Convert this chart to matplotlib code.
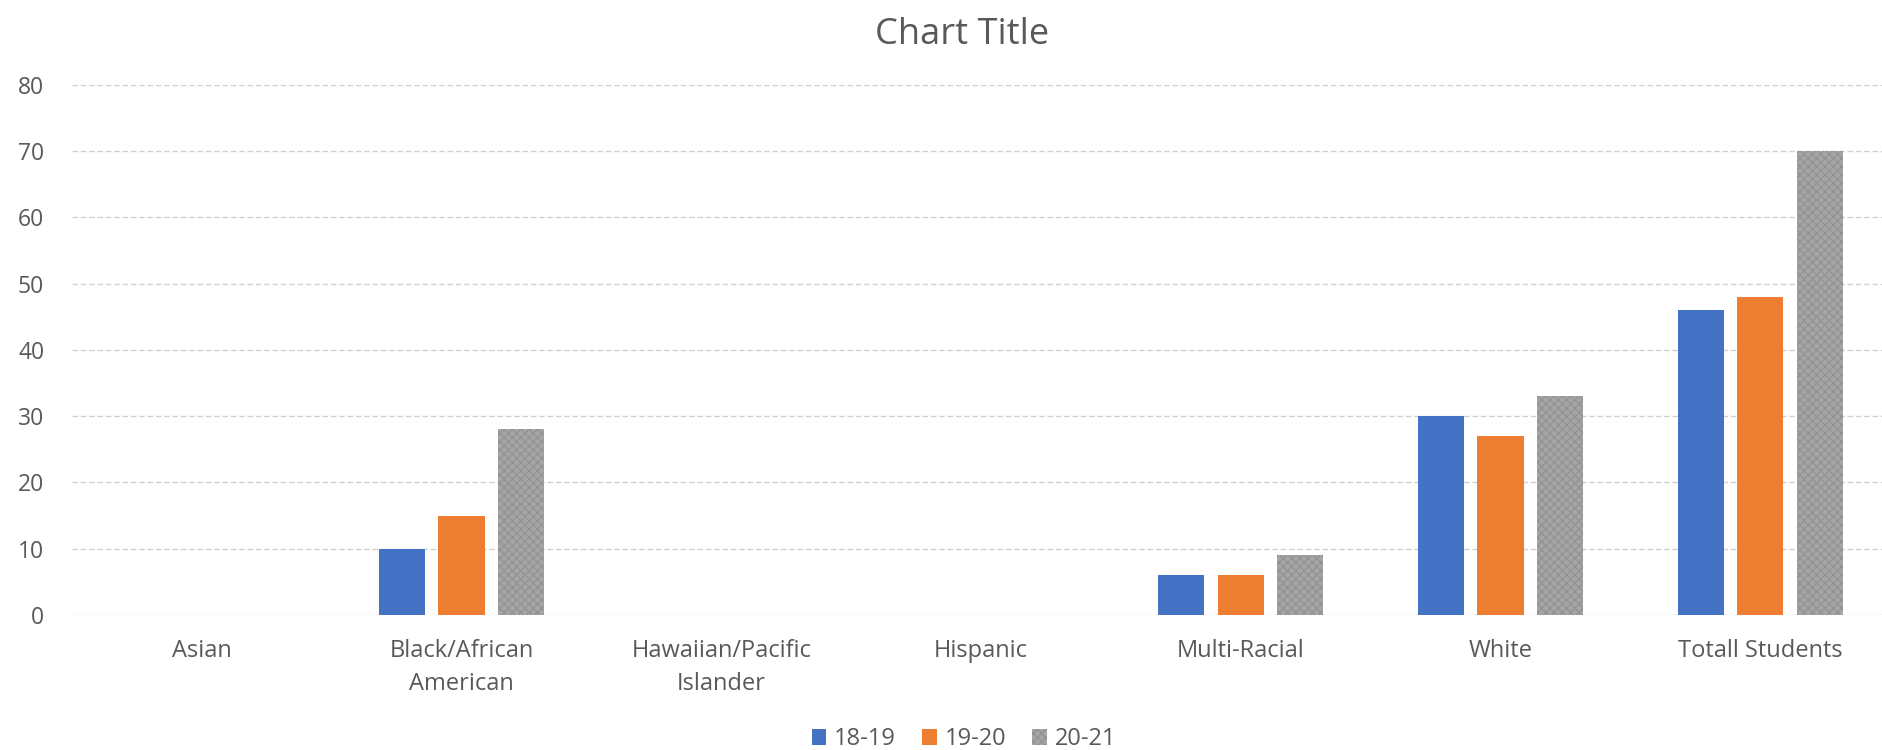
import matplotlib
matplotlib.use("Agg")
import matplotlib.pyplot as plt
import numpy as np

categories = ["Asian", "Black/African\nAmerican", "Hawaiian/Pacific\nIslander", "Hispanic",
              "Multi-Racial", "White", "Totall Students"]
series_names = ["18-19", "19-20", "20-21"]
s1819 = [0, 10, 0, 0, 6, 30, 46]
s1920 = [0, 15, 0, 0, 6, 27, 48]
s2021 = [0, 28, 0, 0, 9, 33, 70]
colors = ["#4472C4", "#ED7D31", "#A5A5A5"]
yticks = [0, 10, 20, 30, 40, 50, 60, 70, 80]

plt.rcParams['font.family'] = ['Open Sans', 'DejaVu Sans']

fig = plt.figure(figsize=(18.83, 7.5), dpi=100)
ax = fig.add_axes([0.0382, 0.18, 0.9656, 0.707])

x = np.arange(len(categories))
width = 0.178
step = 0.229
series = [s1819, s1920, s2021]
for i, (vals, name, c) in enumerate(zip(series, series_names, colors)):
    off = (i - 1) * step
    if i == 2:
        ax.bar(x + off, vals, width, color=c, label=name, edgecolor="#939393",
               linewidth=0, hatch="xxxx", zorder=3)
    else:
        ax.bar(x + off, vals, width, color=c, label=name, linewidth=0, zorder=3)

ax.set_xlim(-0.5, len(categories) - 0.5)
ax.set_ylim(0, 80)
ax.set_yticks(yticks)
ax.set_xticks(x)
ax.set_xticklabels(categories, fontsize=17, color="#595959", linespacing=1.5)
ax.tick_params(axis='y', length=0, pad=20, labelsize=16.5, labelcolor="#595959")
ax.tick_params(axis='x', length=0, pad=17)
ax.yaxis.grid(True, color="#d0d0d0", linestyle=(0, (4, 2)), linewidth=1, zorder=0)
for s in ax.spines.values():
    s.set_visible(False)

fig.suptitle("Chart Title", x=0.511, y=0.978, fontsize=26, color="#595959")

leg = fig.legend(loc="lower center", bbox_to_anchor=(0.512, -0.03), ncol=3, frameon=False,
                 fontsize=17, handlelength=0.62, handleheight=0.62, handletextpad=0.34,
                 columnspacing=1.1, labelcolor="#595959")

fig.savefig("out.png", dpi=100, facecolor="white")
